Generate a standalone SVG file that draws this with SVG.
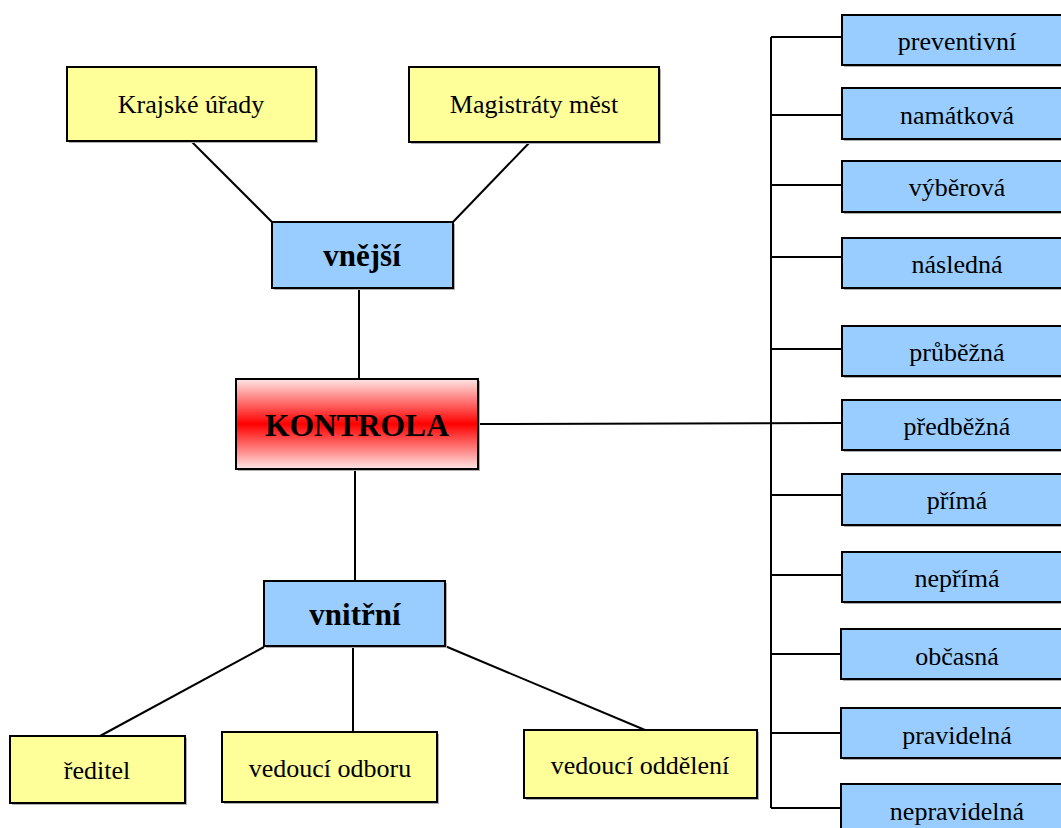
<svg xmlns="http://www.w3.org/2000/svg" width="1061" height="828" viewBox="0 0 1061 828">
<defs>
<linearGradient id="red" x1="0" y1="0" x2="0" y2="1">
<stop offset="0" stop-color="#ffe6e6"/>
<stop offset="0.5" stop-color="#ff0000"/>
<stop offset="1" stop-color="#ffe6e6"/>
</linearGradient>
<style>
.sh{fill:#b0b0b0}
.y{fill:#ffff99;stroke:#000;stroke-width:2}
.b{fill:#99ccff;stroke:#000;stroke-width:2}
.k{fill:url(#red);stroke:#000;stroke-width:2}
.t{font-family:"Liberation Serif","Times New Roman",serif;font-size:26px;fill:#000;text-anchor:middle}
.tb{font-family:"Liberation Serif","Times New Roman",serif;font-size:31px;font-weight:bold;fill:#000;text-anchor:middle}
.tk{font-family:"Liberation Serif","Times New Roman",serif;font-size:31.5px;font-weight:bold;fill:#000;text-anchor:middle}
.c{stroke:#000;stroke-width:2;fill:none}
</style>
</defs>
<rect width="1061" height="828" fill="#fff"/>
<g id="connectors">
<line class="c" x1="191" y1="141" x2="272" y2="222"/>
<line class="c" x1="530" y1="142" x2="453" y2="222"/>
<line class="c" x1="359" y1="288" x2="359" y2="379"/>
<line class="c" x1="355" y1="469" x2="355" y2="581"/>
<line class="c" x1="264" y1="647" x2="100" y2="736"/>
<line class="c" x1="353" y1="646" x2="353" y2="732"/>
<line class="c" x1="445" y1="646" x2="645" y2="730"/>
<line class="c" x1="478" y1="424" x2="842" y2="423"/>
<line class="c" x1="771" y1="37" x2="771" y2="808"/>
<line class="c" x1="771" y1="37" x2="842" y2="37"/>
<line class="c" x1="771" y1="115" x2="842" y2="115"/>
<line class="c" x1="771" y1="185" x2="842" y2="185"/>
<line class="c" x1="771" y1="257" x2="842" y2="257"/>
<line class="c" x1="771" y1="349" x2="842" y2="349"/>
<line class="c" x1="771" y1="495" x2="842" y2="495"/>
<line class="c" x1="771" y1="575" x2="842" y2="575"/>
<line class="c" x1="771" y1="654" x2="842" y2="654"/>
<line class="c" x1="771" y1="733" x2="842" y2="733"/>
<line class="c" x1="771" y1="808" x2="842" y2="808"/>
</g>
<g id="krajske">
<rect class="sh" x="69" y="69" width="249" height="74"/>
<rect class="y" x="67" y="67" width="249" height="74"/>
<text class="t" x="191" y="113">Krajské úřady</text>
</g>
<g id="magistraty">
<rect class="sh" x="411" y="69" width="250" height="75"/>
<rect class="y" x="409" y="67" width="250" height="75"/>
<text class="t" x="534" y="113">Magistráty měst</text>
</g>
<g id="vnejsi">
<rect class="sh" x="274" y="224" width="181" height="66"/>
<rect class="b" x="272" y="222" width="181" height="66"/>
<text class="tb" x="362" y="266">vnější</text>
</g>
<g id="kontrola">
<rect class="sh" x="238" y="381" width="242" height="90"/>
<rect class="k" x="236" y="379" width="242" height="90"/>
<text class="tk" x="357" y="436">KONTROLA</text>
</g>
<g id="vnitrni">
<rect class="sh" x="266" y="583" width="181" height="65"/>
<rect class="b" x="264" y="581" width="181" height="65"/>
<text class="tb" x="355" y="625">vnitřní</text>
</g>
<g id="reditel">
<rect class="sh" x="12" y="738" width="175" height="67"/>
<rect class="y" x="10" y="736" width="175" height="67"/>
<text class="t" x="97" y="779">ředitel</text>
</g>
<g id="odboru">
<rect class="sh" x="224" y="734" width="215" height="70"/>
<rect class="y" x="222" y="732" width="215" height="70"/>
<text class="t" x="330" y="777">vedoucí odboru</text>
</g>
<g id="oddeleni">
<rect class="sh" x="526" y="732" width="233" height="68"/>
<rect class="y" x="524" y="730" width="233" height="68"/>
<text class="t" x="640" y="774">vedoucí oddělení</text>
</g>
<g id="preventivni">
<rect class="sh" x="844" y="17" width="230" height="50"/>
<rect class="b" x="842" y="15" width="230" height="50"/>
<text class="t" x="957" y="50">preventivní</text>
</g>
<g id="namatkova">
<rect class="sh" x="844" y="90" width="230" height="51"/>
<rect class="b" x="842" y="88" width="230" height="51"/>
<text class="t" x="957" y="124">namátková</text>
</g>
<g id="vyberova">
<rect class="sh" x="844" y="163" width="230" height="51"/>
<rect class="b" x="842" y="161" width="230" height="51"/>
<text class="t" x="957" y="196">výběrová</text>
</g>
<g id="nasledna">
<rect class="sh" x="844" y="240" width="230" height="50"/>
<rect class="b" x="842" y="238" width="230" height="50"/>
<text class="t" x="957" y="273">následná</text>
</g>
<g id="prubezna">
<rect class="sh" x="844" y="328" width="230" height="50"/>
<rect class="b" x="842" y="326" width="230" height="50"/>
<text class="t" x="957" y="361">průběžná</text>
</g>
<g id="predbezna">
<rect class="sh" x="844" y="402" width="230" height="50"/>
<rect class="b" x="842" y="400" width="230" height="50"/>
<text class="t" x="957" y="435">předběžná</text>
</g>
<g id="prima">
<rect class="sh" x="844" y="476" width="230" height="51"/>
<rect class="b" x="842" y="474" width="230" height="51"/>
<text class="t" x="957" y="509">přímá</text>
</g>
<g id="neprima">
<rect class="sh" x="844" y="554" width="230" height="50"/>
<rect class="b" x="842" y="552" width="230" height="50"/>
<text class="t" x="957" y="587">nepřímá</text>
</g>
<g id="obcasna">
<rect class="sh" x="843" y="631" width="230" height="50"/>
<rect class="b" x="841" y="629" width="230" height="50"/>
<text class="t" x="957" y="665">občasná</text>
</g>
<g id="pravidelna">
<rect class="sh" x="843" y="710" width="230" height="50"/>
<rect class="b" x="841" y="708" width="230" height="50"/>
<text class="t" x="957" y="744">pravidelná</text>
</g>
<g id="nepravidelna">
<rect class="sh" x="843" y="786" width="230" height="50"/>
<rect class="b" x="841" y="784" width="230" height="50"/>
<text class="t" x="957" y="820">nepravidelná</text>
</g>
</svg>
